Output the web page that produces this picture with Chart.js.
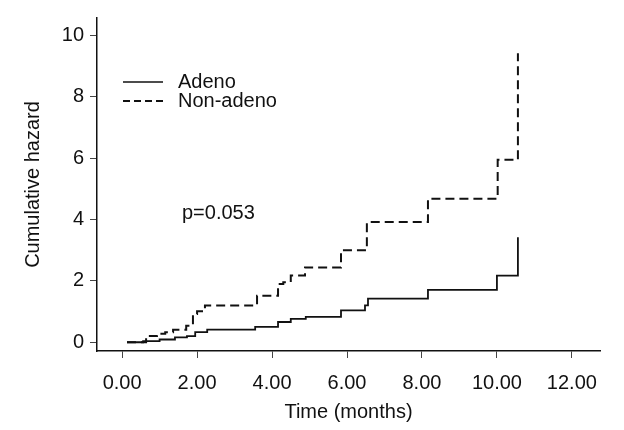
<!DOCTYPE html>
<html>
<head>
<meta charset="utf-8">
<script src="https://cdn.jsdelivr.net/npm/chart.js@4.4.0/dist/chart.umd.min.js"></script>
<style>
  html, body { margin: 0; padding: 0; background: #fff; }
  #wrap { width: 624px; height: 430px; }
</style>
</head>
<body>
<div id="wrap"><canvas id="hazardChart"></canvas></div>
<script>
// step data (time in months, cumulative hazard)
const adenoTime   = [0.13, 0.56, 1.00, 1.41, 1.73, 1.95, 2.27, 3.55, 4.16, 4.50, 4.90, 5.84, 6.48, 6.56, 8.16, 10.00, 10.56];
const adenoHazard = [0.00, 0.04, 0.09, 0.16, 0.20, 0.33, 0.41, 0.50, 0.66, 0.76, 0.83, 1.04, 1.20, 1.42, 1.71, 2.17, 3.42];

const nonAdenoTime   = [0.13, 0.64, 0.93, 1.15, 1.36, 1.71, 1.89, 2.00, 2.21, 3.60, 4.16, 4.30, 4.50, 4.88, 5.84, 6.53, 8.16, 10.02, 10.56];
const nonAdenoHazard = [0.00, 0.20, 0.28, 0.33, 0.41, 0.54, 0.92, 1.01, 1.20, 1.52, 1.90, 1.96, 2.18, 2.44, 3.00, 3.92, 4.68, 5.95, 9.42];

const xTicks = [0, 2, 4, 6, 8, 10, 12];
const yTicks = [0, 2, 4, 6, 8, 10];
const seriesNames = ["Adeno", "Non-adeno"];
const pValueText = "p=0.053";

const FONT = "'Liberation Sans', Arial, sans-serif";
const INK = "#111";

function toPoints(xs, ys) {
  return xs.map((x, i) => ({ x: x, y: ys[i] }));
}

// draws the legend and the p value inside the plot, as in the original
const notesPlugin = {
  id: "notes",
  afterDraw(chart) {
    const ctx = chart.ctx;
    ctx.save();
    ctx.strokeStyle = INK;
    ctx.fillStyle = INK;
    ctx.font = "20px " + FONT;
    ctx.textBaseline = "middle";

    ctx.lineWidth = 1.5;
    ctx.setLineDash([]);
    ctx.beginPath();
    ctx.moveTo(123, 82);
    ctx.lineTo(163, 82);
    ctx.stroke();
    ctx.fillText(seriesNames[0], 178, 82);

    ctx.lineWidth = 2;
    ctx.setLineDash([7, 4]);
    ctx.beginPath();
    ctx.moveTo(123, 101);
    ctx.lineTo(163, 101);
    ctx.stroke();
    ctx.setLineDash([]);
    ctx.fillText(seriesNames[1], 178, 101);

    ctx.fillText(pValueText, 182, 213);
    ctx.restore();
  }
};

const data = {
  datasets: [
    {
      label: seriesNames[0],
      data: toPoints(adenoTime, adenoHazard),
      borderColor: INK,
      borderWidth: 1.8,
      stepped: true,
      pointRadius: 0,
      fill: false,
    },
    {
      label: seriesNames[1],
      data: toPoints(nonAdenoTime, nonAdenoHazard),
      borderColor: INK,
      borderWidth: 2,
      borderDash: [9, 5],
      stepped: true,
      pointRadius: 0,
      fill: false,
    },
  ],
};

const config = {
  type: "line",
  data,
  plugins: [notesPlugin],
  options: {
    responsive: true,
    maintainAspectRatio: false,
    animation: false,
    layout: { padding: { top: 8, right: 24, left: 0, bottom: 0 } },
    plugins: {
      legend: { display: false },
      tooltip: { enabled: false },
    },
    scales: {
      x: {
        type: "linear",
        min: -0.67,
        max: 12.75,
        afterBuildTicks: (scale) => {
          scale.ticks = xTicks.map((v) => ({ value: v }));
        },
        afterFit: (scale) => { scale.height = 79; },
        ticks: {
          color: INK,
          font: { family: FONT, size: 20 },
          padding: 13,
          maxRotation: 0,
          callback: (v) => Number(v).toFixed(2),
        },
        grid: { drawOnChartArea: false, drawTicks: true, tickLength: 7, color: "#444", lineWidth: 1 },
        border: { display: true, color: INK, width: 1.5 },
        title: {
          display: true,
          text: "Time (months)",
          color: INK,
          font: { family: FONT, size: 20 },
          padding: { top: 0, bottom: 6 },
        },
      },
      y: {
        type: "linear",
        min: -0.285,
        max: 10.57,
        afterBuildTicks: (scale) => {
          scale.ticks = yTicks.map((v) => ({ value: v }));
        },
        afterFit: (scale) => { scale.width = 97; },
        ticks: {
          color: INK,
          font: { family: FONT, size: 20 },
          padding: 6,
        },
        grid: { drawOnChartArea: false, drawTicks: true, tickLength: 7, color: "#444", lineWidth: 1 },
        border: { display: true, color: INK, width: 1.5 },
        title: {
          display: true,
          text: "Cumulative hazard",
          color: INK,
          font: { family: FONT, size: 20 },
          padding: { top: 21, bottom: 0 },
        },
      },
    },
  },
};

const hazardChart = new Chart(document.getElementById("hazardChart"), config);
</script>
</body>
</html>
